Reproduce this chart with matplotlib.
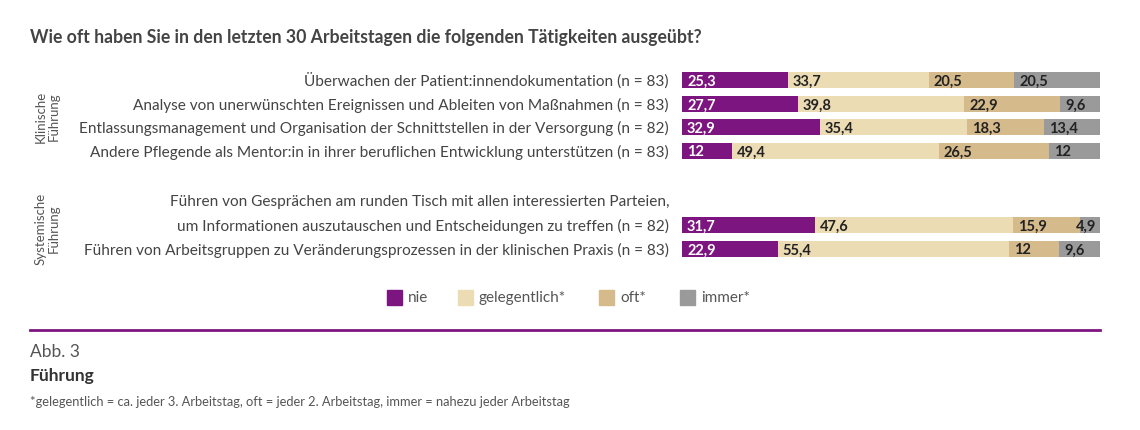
import matplotlib
matplotlib.use("Agg")
import matplotlib.pyplot as plt
import matplotlib.transforms as mtransforms
import numpy as np

# data
items = [
    "Überwachen der Patient:innendokumentation (n = 83)",
    "Analyse von unerwünschten Ereignissen und Ableiten von Maßnahmen (n = 83)",
    "Entlassungsmanagement und Organisation der Schnittstellen in der Versorgung (n = 82)",
    "Andere Pflegende als Mentor:in in ihrer beruflichen Entwicklung unterstützen (n = 83)",
    "Führen von Gesprächen am runden Tisch mit allen interessierten Parteien,\n"
    "um Informationen auszutauschen und Entscheidungen zu treffen (n = 82)",
    "Führen von Arbeitsgruppen zu Veränderungsprozessen in der klinischen Praxis (n = 83)",
]
categories = ["nie", "gelegentlich*", "oft*", "immer*"]
nie = [25.3, 27.7, 32.9, 12, 31.7, 22.9]
gelegentlich = [33.7, 39.8, 35.4, 49.4, 47.6, 55.4]
oft = [20.5, 22.9, 18.3, 26.5, 15.9, 12]
immer = [20.5, 9.6, 13.4, 12, 4.9, 9.6]
groups = ["Klinische\nFührung", "Systemische\nFührung"]

colors = ["#7d1580", "#ecdcb4", "#d5ba8b", "#9a9a9a"]
text_colors = ["white", "#222222", "#222222", "#222222"]
plt.rcParams["font.family"] = ["Lato", "DejaVu Sans"]

W, H = 1140, 431
fig = plt.figure(figsize=(W / 100, H / 100), dpi=100)
# bar area: x 0..100 -> px 682..1100, y in pixel rows (top = 0)
ax = fig.add_axes([682 / W, 0, 418 / W, 1])
ax.set_xlim(0, 100)
ax.set_ylim(H, 0)
ax.axis("off")

row_y = [81, 105, 128, 152, 226, 250]
bar_h = 16

series = [nie, gelegentlich, oft, immer]
left = np.zeros(len(items))
for vals, col, tcol in zip(series, colors, text_colors):
    vals = np.array(vals, dtype=float)
    ax.barh(row_y, vals, left=left, height=bar_h, color=col, edgecolor="none")
    for y, l, v in zip(row_y, left, vals):
        lab = f"{v:g}".replace(".", ",")
        if l + v >= 99.9 and v < 7:
            # small last segment: keep the label inside the bar
            ax.text(99.0, y + 0.5, lab, ha="right", va="center", fontsize=10.5,
                    fontweight="bold", color=tcol)
        else:
            ax.text(l + 1.2, y + 0.5, lab, ha="left", va="center", fontsize=10.5,
                    fontweight="bold", color=tcol)
    left += vals

# item labels, right aligned at px 669
trans = mtransforms.blended_transform_factory(fig.transFigure, ax.transData)
for y, lab in zip(row_y, items):
    lines = lab.split("\n")
    for k, line in enumerate(reversed(lines)):
        ax.text(669 / W, y - k * 24, line, transform=trans, ha="right", va="center",
                fontsize=11.1, color="#444444")

# group labels
for gy, g in zip([117, 229], groups):
    ax.text(47 / W, gy, g, transform=trans, ha="center", va="center", rotation=90,
            fontsize=9.5, color="#555555", linespacing=1.1)

# title
fig.text(30 / W, 1 - 37 / H, "Wie oft haben Sie in den letzten 30 Arbeitstagen die folgenden Tätigkeiten ausgeübt?",
         ha="left", va="center", fontsize=12.7, fontweight="bold", color="#444444")

# legend
leg_x = [395, 466, 607, 688]
for x, c, name in zip(leg_x, colors, categories):
    fig.patches.append(plt.Rectangle(((x - 8) / W, 1 - 306 / H), 15 / W, 15 / H,
                                     transform=fig.transFigure, color=c))
    fig.text((x + 13) / W, 1 - 298 / H, name, ha="left", va="center",
             fontsize=11, color="#555555")

# separator line
fig.add_artist(plt.Line2D([30 / W, 1100 / W], [1 - 331 / H, 1 - 331 / H],
                          transform=fig.transFigure, color="#7d1580", linewidth=2))

fig.text(30 / W, 1 - 352 / H, "Abb. 3", ha="left", va="center", fontsize=12.5,
         color="#555555")
fig.text(30 / W, 1 - 376 / H, "Führung", ha="left", va="center", fontsize=12.5,
         fontweight="bold", color="#333333")
fig.text(30 / W, 1 - 402 / H,
         "*gelegentlich = ca. jeder 3. Arbeitstag, oft = jeder 2. Arbeitstag, immer = nahezu jeder Arbeitstag",
         ha="left", va="center", fontsize=9.3, color="#555555")

fig.savefig("out.png", dpi=100)
